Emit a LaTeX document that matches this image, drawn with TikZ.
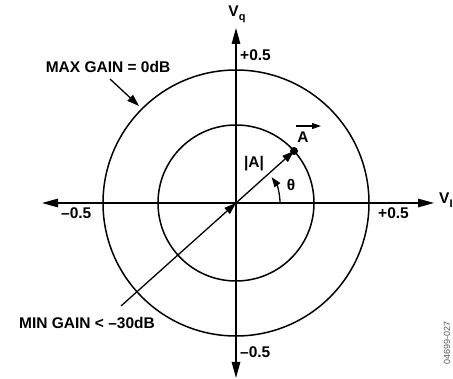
\documentclass[tikz,border=0pt]{standalone}
\usepackage{fontspec}
\setmainfont{Liberation Sans}
\usetikzlibrary{arrows.meta,calc}
\begin{document}
\begin{tikzpicture}[x=1pt,y=-1pt,
  lbl/.style={font=\fontsize{15.5}{15.5}\selectfont\bfseries, inner sep=0pt},
  axarrow/.style={line width=1.3pt, {Triangle[length=16pt,width=8.5pt]}-{Triangle[length=16pt,width=8.5pt]}},
  ptr/.style={line width=1.3pt, -{Triangle[length=12pt,width=8pt]}},
  circ/.style={line width=1.5pt}]
\useasboundingbox (0,0) rectangle (453,379);
\coordinate (O) at (236,203);
\coordinate (xl) at (42,203);
\coordinate (xr) at (434,203);
\coordinate (yt) at (236,28);
\coordinate (yb) at (236,378);
\draw[circ] (O) circle[radius=133pt];
\draw[circ] (O) circle[radius=78pt];
\draw[axarrow] (xl) -- (xr);
\draw[axarrow] (yb) -- (yt);
\coordinate (A) at ($(O)+(58,-52)$);
\fill (A) circle[radius=4pt];
\draw[ptr] (O) -- (A);
\coordinate (minstart) at (121,306);
\draw[ptr] (minstart) -- (O);
\coordinate (maxstart) at (110,79);
\coordinate (maxend) at (139,106);
\draw[ptr] (maxstart) -- (maxend);
\draw[line width=1.3pt, -{Triangle[length=10pt,width=7pt]}] ($(O)+(44,0)$) arc[start angle=0, end angle=36, radius=44pt];
\coordinate (va1) at (296,126);
\coordinate (va2) at (321,126);
\draw[line width=1.2pt, -{Triangle[length=9pt,width=6pt]}] (va1) -- (va2);
\node[lbl] (Vlab) at (303,137) {A};
\node[lbl] (Vq) at (237,14) {V\raisebox{-4pt}{\fontsize{11}{11}\selectfont q}};
\node[lbl, anchor=west] (VI) at (439,200) {V\raisebox{-4pt}{\fontsize{11}{11}\selectfont I}};
\node[lbl, anchor=west] (pt) at (240,55) {+0.5};
\node[lbl, anchor=west] (mb) at (240,352) {–0.5};
\node[lbl, anchor=west] (ml) at (61,213) {–0.5};
\node[lbl, anchor=west] (pr) at (378,213) {+0.5};
\node[lbl] (absA) at (254,164) {|A|};
\node[lbl] (th) at (291,185) {\symbol{"03B8}};
\node[lbl] (maxg) at (108,67) {MAX GAIN = 0dB};
\node[lbl] (ming) at (87,323) {MIN GAIN < –30dB};
\node[font=\fontsize{9}{9}\selectfont, text=black!65, rotate=90, inner sep=0pt] (code) at (447,343) {04699-027};
\end{tikzpicture}
\end{document}
